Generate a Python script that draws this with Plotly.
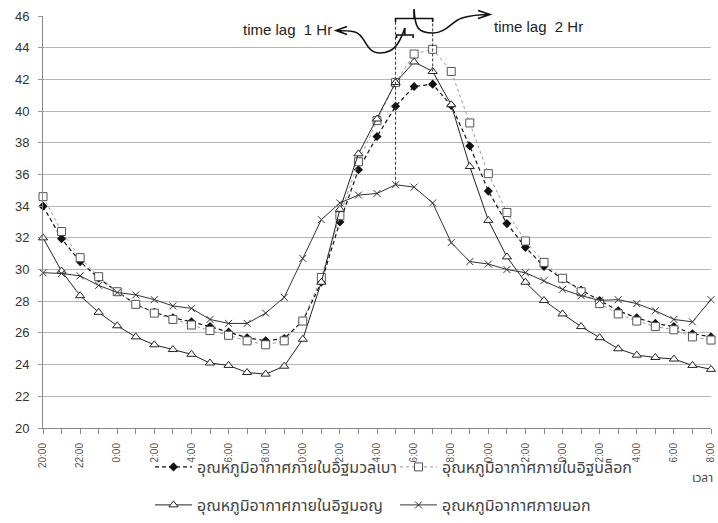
import plotly.graph_objects as go

tick_labels = ["20:00", "", "22:00", "", "0:00", "", "2:00", "", "4:00", "", "6:00", "", "8:00", "",
               "0:00", "", "2:00", "", "4:00", "", "6:00", "", "8:00", "", "0:00", "", "2:00", "",
               "0:00", "", "2:00", "", "4:00", "", "6:00", "", "8:00"]
hours = list(range(37))

names = ["อุณหภูมิอากาศภายในอิฐมวลเบา", "อุณหภูมิอากาศภายในอิฐบล็อก",
         "อุณหภูมิอากาศภายในอิฐมอญ", "อุณหภูมิอากาศภายนอก"]

light_brick = [34.0, 31.95, 30.5, 29.45, 28.6, 27.8, 27.3, 26.95, 26.7, 26.4, 26.05, 25.7, 25.5, 25.65,
               26.75, 29.2, 33.0, 36.3, 38.4, 40.3, 41.55, 41.7, 40.35, 37.8, 34.95, 32.9, 31.4, 30.2,
               29.4, 28.7, 28.05, 27.4, 26.95, 26.6, 26.4, 25.95, 25.75]
block_brick = [34.6, 32.4, 30.75, 29.55, 28.6, 27.8, 27.25, 26.85, 26.5, 26.15, 25.85, 25.5, 25.25, 25.5,
               26.75, 29.5, 33.4, 36.8, 39.4, 41.8, 43.6, 43.9, 42.5, 39.25, 36.05, 33.6, 31.8, 30.45,
               29.45, 28.6, 27.85, 27.2, 26.75, 26.4, 26.2, 25.75, 25.55]
clay_brick = [32.0, 29.9, 28.35, 27.3, 26.45, 25.75, 25.25, 24.95, 24.65, 24.1, 23.95, 23.5, 23.4, 23.9,
              25.6, 29.2, 33.8, 37.3, 39.5, 41.8, 43.1, 42.5, 40.4, 36.5, 33.1, 30.8, 29.2, 28.05,
              27.2, 26.4, 25.7, 25.0, 24.6, 24.45, 24.35, 23.95, 23.7]
outside = [29.8, 29.75, 29.6, 29.0, 28.55, 28.4, 28.1, 27.7, 27.55, 26.85, 26.6, 26.6, 27.25, 28.25,
           30.7, 33.15, 34.2, 34.7, 34.8, 35.35, 35.2, 34.2, 31.7, 30.5, 30.35, 30.0, 29.8, 29.3,
           28.75, 28.35, 28.05, 28.1, 27.85, 27.4, 26.85, 26.7, 28.1]

W, H = 718, 523
L, R, T, B = 43, 7, 16, 95
PW, PH = W - L - R, H - T - B

def px(x):
    return (x - L) / PW

def py(y):
    return (H - B - y) / PH

THAI = "Noto Sans Thai, Noto Sans, Liberation Sans, sans-serif"

fig = go.Figure()
fig.add_trace(go.Scatter(x=hours, y=light_brick, name=names[0], mode="lines+markers", cliponaxis=False,
                         line=dict(color="#111", width=1.2, dash="4px,3px"),
                         marker=dict(symbol="diamond", size=7, color="#111"), legend="legend"))
fig.add_trace(go.Scatter(x=hours, y=block_brick, name=names[1], mode="lines+markers", cliponaxis=False,
                         line=dict(color="#999", width=1, dash="dot"),
                         marker=dict(symbol="square", size=8, color="white",
                                     line=dict(color="#555", width=1)), legend="legend"))
fig.add_trace(go.Scatter(x=hours, y=clay_brick, name=names[2], mode="lines+markers", cliponaxis=False,
                         line=dict(color="#222", width=1),
                         marker=dict(symbol="triangle-up", size=8, color="white",
                                     line=dict(color="#222", width=1)), legend="legend2"))
fig.add_trace(go.Scatter(x=hours, y=outside, name=names[3], mode="lines+markers", cliponaxis=False,
                         line=dict(color="#333", width=1),
                         marker=dict(symbol="x-thin", size=7, color="#333",
                                     line=dict(color="#333", width=1)), legend="legend2"))

# dashed guide lines at the peaks
top_val = 45.85
fig.add_shape(type="line", xref="x", yref="y", x0=19, x1=19, y0=outside[19], y1=top_val,
              line=dict(color="#333", width=1, dash="3px,2px"))
fig.add_shape(type="line", xref="x", yref="y", x0=21, x1=21, y0=clay_brick[21], y1=top_val,
              line=dict(color="#333", width=1, dash="3px,2px"))

# brackets and curly arrows (pixel based, paper refs)
xa = L + 19 * PW / 36
xb = L + 20 * PW / 36
xc = L + 21 * PW / 36
big = (f"M {px(xa)},{py(22)} L {px(xa)},{py(18.5)} L {px(xc)},{py(18.5)} L {px(xc)},{py(22)} "
       f"M {px(xb)},{py(18.5)} L {px(xb)},{py(9)}")
small_mid = (xa + xb) / 2
small = (f"M {px(xa+1)},{py(38)} L {px(xa+1)},{py(35)} L {px(xb-1)},{py(35)} L {px(xb-1)},{py(38)} "
         f"M {px(small_mid)},{py(35)} L {px(small_mid)},{py(28)}")
curve_right = (f"M {px(xb)},{py(10)} C {px(xb+1)},{py(28)} {px(418)},{py(33)} {px(433)},{py(33)} "
               f"C {px(446)},{py(33)} {px(452)},{py(21)} {px(462)},{py(18)} "
               f"C {px(472)},{py(15)} {px(482)},{py(14.5)} {px(490)},{py(14.5)} "
               f"M {px(478)},{py(10.5)} L {px(490)},{py(14.5)} L {px(478)},{py(18.5)}")
curve_left = (f"M {px(small_mid)},{py(28)} C {px(400)},{py(42)} {px(395)},{py(53)} {px(380)},{py(53)} "
              f"C {px(365)},{py(53)} {px(366)},{py(35)} {px(355)},{py(32)} "
              f"C {px(348)},{py(30.5)} {px(342)},{py(30.5)} {px(336)},{py(30.5)} "
              f"M {px(347)},{py(26.5)} L {px(336)},{py(30.5)} L {px(347)},{py(34.5)}")
for p in (big, small, curve_right, curve_left):
    fig.add_shape(type="path", xref="paper", yref="paper", path=p,
                  line=dict(color="#111", width=1.6))

fig.add_annotation(x=px(334), y=py(30), xref="paper", yref="paper", xanchor="right", yanchor="middle",
                   text="time lag  1 Hr", showarrow=False,
                   font=dict(family="Liberation Sans, sans-serif", size=15, color="#222"))
fig.add_annotation(x=px(492), y=py(27), xref="paper", yref="paper", xanchor="left", yanchor="middle",
                   text="time lag  2 Hr", showarrow=False,
                   font=dict(family="Liberation Sans, sans-serif", size=15, color="#222"))
fig.add_annotation(x=px(715), y=py(478), xref="paper", yref="paper", xanchor="right", yanchor="middle",
                   text="เวลา", showarrow=False, font=dict(family=THAI, size=12, color="#444"))

leg_common = dict(orientation="h", xanchor="left", yanchor="middle", entrywidth=193, itemwidth=37,
                  font=dict(family=THAI, size=16, color="#444"), bgcolor="rgba(0,0,0,0)",
                  tracegroupgap=0)
fig.update_layout(
    width=W, height=H,
    margin=dict(l=L, r=R, t=T, b=B, autoexpand=False),
    paper_bgcolor="white", plot_bgcolor="white",
    font=dict(family="Liberation Sans, sans-serif", color="#333"),
    legend=dict(x=px(150), y=py(467), **leg_common),
    legend2=dict(x=px(150), y=py(505), **leg_common),
)
fig.update_xaxes(range=[0, 36], tickmode="array", tickvals=hours, ticktext=tick_labels,
                 tickangle=-90, tickfont=dict(size=10, color="#555"), ticks="outside", ticklen=5,
                 tickcolor="#888", showline=True, linecolor="#888", linewidth=1, showgrid=False,
                 zeroline=False, ticklabelstandoff=5)
fig.update_yaxes(range=[20, 46], dtick=2, tick0=20, tickfont=dict(size=13, color="#333"),
                 ticks="outside", ticklen=4, tickcolor="#999", showline=True, linecolor="#888",
                 linewidth=1, gridcolor="#b5b5b5", gridwidth=1, zeroline=False, ticklabelstandoff=6)

fig.write_html("out.html", config={"displayModeBar": False},
               post_script="document.body.style.margin='0';")
